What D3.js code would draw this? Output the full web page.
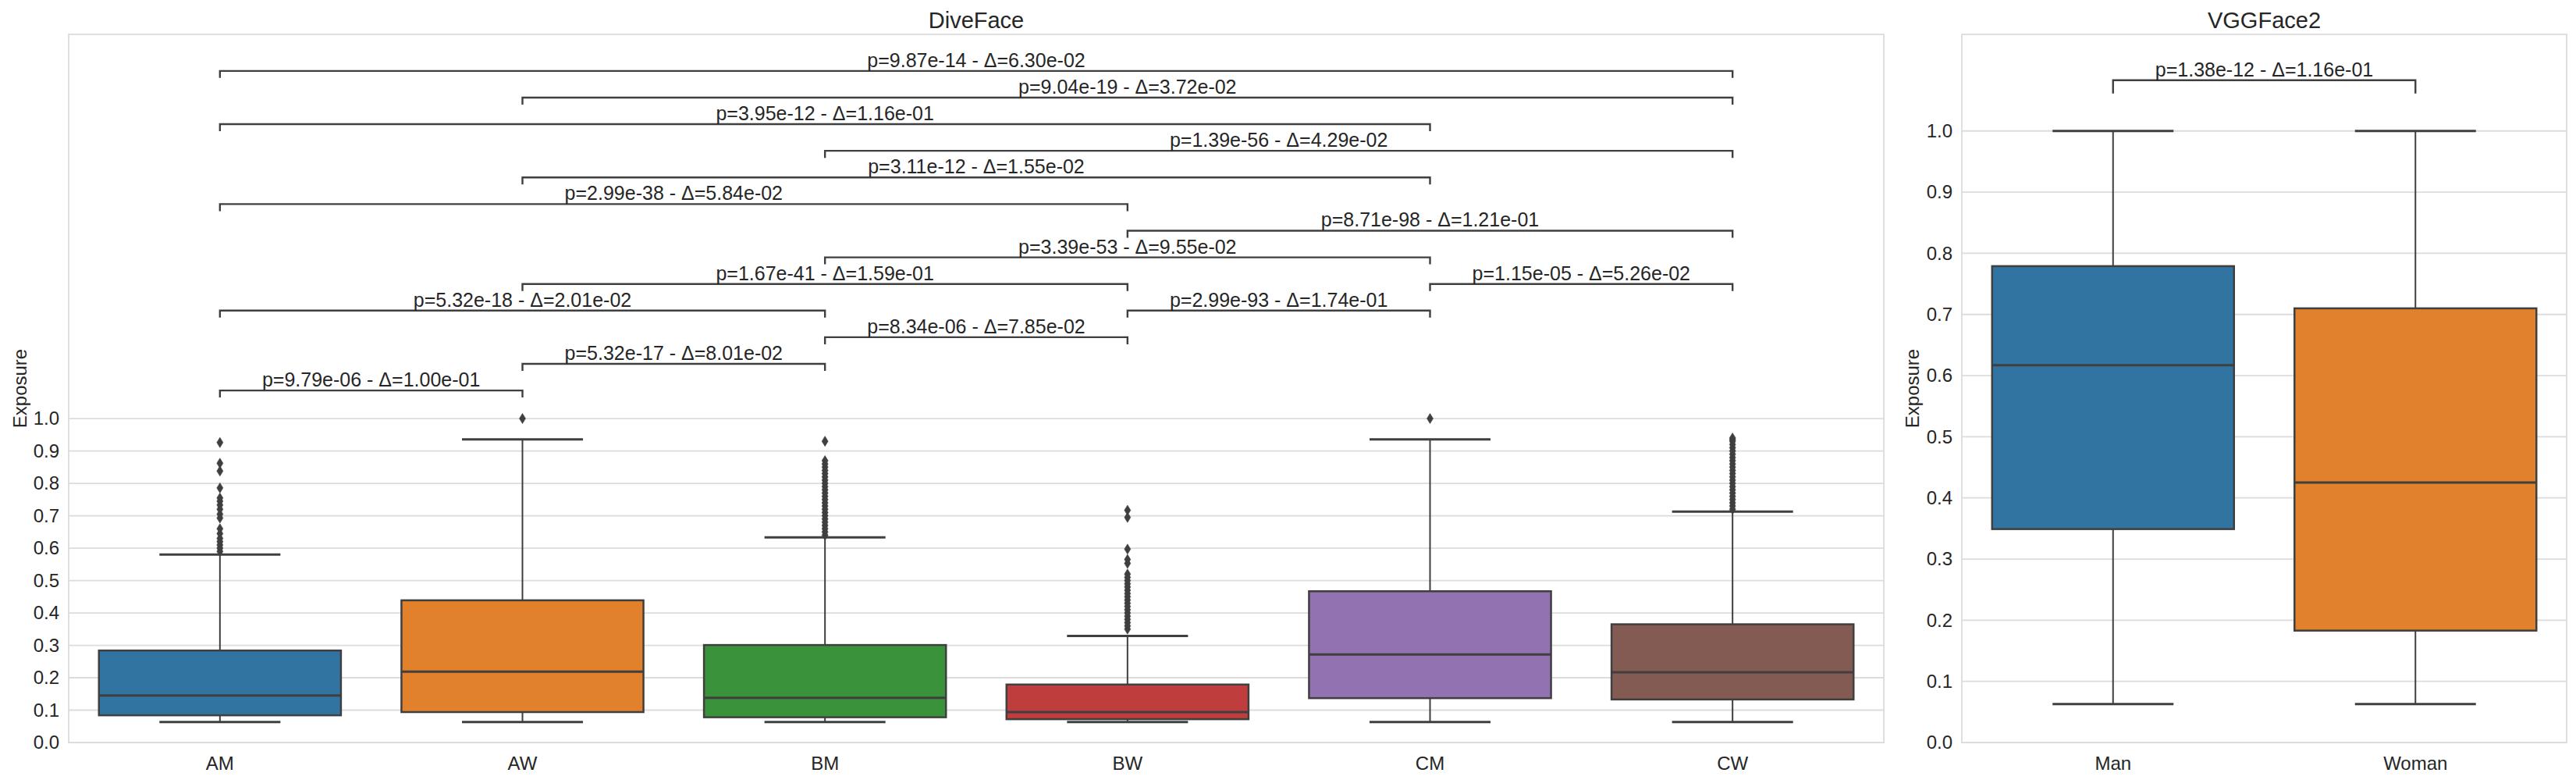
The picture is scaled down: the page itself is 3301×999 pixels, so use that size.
<!DOCTYPE html>
<html>
<head>
<meta charset="utf-8">
<script src="https://cdn.jsdelivr.net/npm/d3@7"></script>
<style>
  html, body { margin: 0; padding: 0; background: #ffffff; }
  svg { display: block; }
  text { font-family: "Liberation Sans", Arial, sans-serif; fill: #262626; }
</style>
</head>
<body>
<script>
// ---------------- DATA ----------------
const dfCategories = ["AM", "AW", "BM", "BW", "CM", "CW"];
const dfWhiskerLow = [0.063, 0.063, 0.063, 0.063, 0.063, 0.063];
const dfQ1 = [0.084, 0.094, 0.078, 0.072, 0.137, 0.133];
const dfMedian = [0.145, 0.219, 0.138, 0.094, 0.272, 0.217];
const dfQ3 = [0.284, 0.439, 0.301, 0.179, 0.467, 0.365];
const dfWhiskerHigh = [0.580, 0.936, 0.633, 0.329, 0.936, 0.713];
const dfOutliers = [
  [0.926, 0.862, 0.838, 0.786, 0.755, 0.745, 0.733, 0.72, 0.705, 0.693, 0.66, 0.645, 0.63, 0.62, 0.61, 0.60, 0.59],
  [1.0],
  [0.93, 0.87, 0.86, 0.85, 0.84, 0.83, 0.82, 0.81, 0.80, 0.79, 0.78, 0.77, 0.76, 0.75, 0.74, 0.73, 0.72, 0.71, 0.70, 0.69, 0.68, 0.67, 0.66, 0.65, 0.64],
  [0.717, 0.695, 0.597, 0.565, 0.553, 0.52, 0.51, 0.50, 0.49, 0.48, 0.47, 0.46, 0.45, 0.44, 0.43, 0.42, 0.41, 0.40, 0.39, 0.38, 0.37, 0.36, 0.35],
  [1.0],
  [0.94, 0.935, 0.93, 0.92, 0.91, 0.90, 0.89, 0.88, 0.87, 0.86, 0.85, 0.84, 0.83, 0.82, 0.81, 0.80, 0.79, 0.78, 0.77, 0.76, 0.75, 0.74, 0.73, 0.72]
];
const dfColors = ["#3274a1", "#e1812c", "#3a923a", "#c03d3e", "#9372b2", "#845b53"];

// pairwise comparisons (stacking tier 0 = lowest)
const dfPairs = [
  ["AM", "AW"], ["AW", "BM"], ["BM", "BW"], ["AM", "BM"], ["BW", "CM"],
  ["AW", "BW"], ["CM", "CW"], ["BM", "CM"], ["BW", "CW"], ["AM", "BW"],
  ["AW", "CM"], ["BM", "CW"], ["AM", "CM"], ["AW", "CW"], ["AM", "CW"]
];
const dfTier = [0, 1, 2, 3, 3, 4, 4, 5, 6, 7, 8, 9, 10, 11, 12];
const dfLabels = [
  "p=9.79e-06 - Δ=1.00e-01", "p=5.32e-17 - Δ=8.01e-02", "p=8.34e-06 - Δ=7.85e-02",
  "p=5.32e-18 - Δ=2.01e-02", "p=2.99e-93 - Δ=1.74e-01", "p=1.67e-41 - Δ=1.59e-01",
  "p=1.15e-05 - Δ=5.26e-02", "p=3.39e-53 - Δ=9.55e-02", "p=8.71e-98 - Δ=1.21e-01",
  "p=2.99e-38 - Δ=5.84e-02", "p=3.11e-12 - Δ=1.55e-02", "p=1.39e-56 - Δ=4.29e-02",
  "p=3.95e-12 - Δ=1.16e-01", "p=9.04e-19 - Δ=3.72e-02", "p=9.87e-14 - Δ=6.30e-02"
];

const vgCategories = ["Man", "Woman"];
const vgWhiskerLow = [0.063, 0.063];
const vgQ1 = [0.349, 0.183];
const vgMedian = [0.617, 0.425];
const vgQ3 = [0.779, 0.710];
const vgWhiskerHigh = [1.0, 1.0];
const vgOutliers = [[], []];
const vgColors = ["#3274a1", "#e1812c"];
const vgPairs = [["Man", "Woman"]];
const vgTier = [0];
const vgLabels = ["p=1.38e-12 - Δ=1.16e-01"];

const yTicks = [0.0, 0.1, 0.2, 0.3, 0.4, 0.5, 0.6, 0.7, 0.8, 0.9, 1.0];

// ---------------- DRAW ----------------
const W = 3301, H = 999;
const svg = d3.select("body").append("svg").attr("width", W).attr("height", H);
const lineColor = "#3f3f3f";
const gridColor = "#dcdcdc";

function panel(opt) {
  const {x0, x1, top, bottom, yMax, cats, lo, q1, med, q3, hi, outs, colors,
         pairs, tiers, labels, title, bracketBase, bracketStep, bracketTick, labelX} = opt;
  const g = svg.append("g");
  const x = d3.scaleBand().domain(cats).range([x0, x1]).paddingInner(0).paddingOuter(0);
  const y = d3.scaleLinear().domain([0, yMax]).range([bottom, top]);
  const bw = x.bandwidth() * 0.8;
  const cx = c => x(c) + x.bandwidth() / 2;

  // grid
  g.append("g").selectAll("line").data(yTicks).join("line")
    .attr("x1", x0).attr("x2", x1)
    .attr("y1", d => y(d)).attr("y2", d => y(d))
    .attr("stroke", gridColor).attr("stroke-width", 1.8);

  // frame
  g.append("rect").attr("x", x0).attr("y", top).attr("width", x1 - x0).attr("height", bottom - top)
    .attr("fill", "none").attr("stroke", gridColor).attr("stroke-width", 1.8);

  // y axis (ticks as text only)
  const yAxis = d3.axisLeft(y).tickValues(yTicks).tickFormat(d3.format(".1f")).tickSize(0).tickPadding(12);
  const ya = g.append("g").attr("transform", `translate(${x0},0)`).call(yAxis);
  ya.select(".domain").remove();
  ya.selectAll("text").attr("font-size", 24).style("fill", "#262626")
    .style("font-family", '"Liberation Sans", Arial, sans-serif');

  // x axis labels
  const xAxis = d3.axisBottom(x).tickSize(0).tickPadding(12);
  const xa = g.append("g").attr("transform", `translate(0,${bottom})`).call(xAxis);
  xa.select(".domain").remove();
  xa.selectAll("text").attr("font-size", 24).attr("dy", "0.95em").style("fill", "#262626")
    .style("font-family", '"Liberation Sans", Arial, sans-serif');

  // y label
  g.append("text").attr("transform", `translate(${labelX},${(top + bottom) / 2}) rotate(-90)`)
    .attr("text-anchor", "middle").attr("dy", "0.35em").attr("font-size", 24).text("Exposure");

  // title
  g.append("text").attr("x", (x0 + x1) / 2).attr("y", top - 8).attr("text-anchor", "middle")
    .attr("font-size", 29).text(title);

  // boxes
  cats.forEach((c, i) => {
    const b = g.append("g");
    b.append("line").attr("x1", cx(c)).attr("x2", cx(c)).attr("y1", y(q3[i])).attr("y2", y(hi[i]))
      .attr("stroke", lineColor).attr("stroke-width", 2);
    b.append("line").attr("x1", cx(c)).attr("x2", cx(c)).attr("y1", y(q1[i])).attr("y2", y(lo[i]))
      .attr("stroke", lineColor).attr("stroke-width", 2);
    [hi[i], lo[i]].forEach(v => {
      b.append("line").attr("x1", cx(c) - bw / 4).attr("x2", cx(c) + bw / 4)
        .attr("y1", y(v)).attr("y2", y(v)).attr("stroke", lineColor).attr("stroke-width", 3);
    });
    b.append("rect").attr("x", cx(c) - bw / 2).attr("width", bw)
      .attr("y", y(q3[i])).attr("height", y(q1[i]) - y(q3[i]))
      .attr("fill", colors[i]).attr("stroke", lineColor).attr("stroke-width", 2.5);
    b.append("line").attr("x1", cx(c) - bw / 2).attr("x2", cx(c) + bw / 2)
      .attr("y1", y(med[i])).attr("y2", y(med[i])).attr("stroke", lineColor).attr("stroke-width", 3);
    b.selectAll("path.out").data(outs[i]).join("path").attr("class", "out")
      .attr("d", "M0,-6.5 L4,0 L0,6.5 L-4,0Z")
      .attr("transform", v => `translate(${cx(c)},${y(v)})`)
      .attr("fill", lineColor).attr("stroke", lineColor).attr("stroke-width", 0.6);
  });

  // significance brackets
  pairs.forEach((p, i) => {
    const lv = bracketBase + tiers[i] * bracketStep;
    const xa_ = cx(p[0]), xb_ = cx(p[1]);
    const yl = y(lv), yt = y(lv - bracketTick);
    g.append("path").attr("d", `M${xa_},${yt} L${xa_},${yl} L${xb_},${yl} L${xb_},${yt}`)
      .attr("fill", "none").attr("stroke", lineColor).attr("stroke-width", 2.4);
    g.append("text").attr("x", (xa_ + xb_) / 2).attr("y", yl - 5).attr("text-anchor", "middle")
      .attr("font-size", 25).text(labels[i]);
  });
}

panel({
  x0: 88, x1: 2414, top: 44, bottom: 951, yMax: 2.186,
  cats: dfCategories, lo: dfWhiskerLow, q1: dfQ1, med: dfMedian, q3: dfQ3, hi: dfWhiskerHigh,
  outs: dfOutliers, colors: dfColors, pairs: dfPairs, tiers: dfTier, labels: dfLabels,
  title: "DiveFace", bracketBase: 1.0867, bracketStep: 0.0822, bracketTick: 0.0217, labelX: 26
});

panel({
  x0: 2514, x1: 3289, top: 44, bottom: 951, yMax: 1.158,
  cats: vgCategories, lo: vgWhiskerLow, q1: vgQ1, med: vgMedian, q3: vgQ3, hi: vgWhiskerHigh,
  outs: vgOutliers, colors: vgColors, pairs: vgPairs, tiers: vgTier, labels: vgLabels,
  title: "VGGFace2", bracketBase: 1.083, bracketStep: 0.0822, bracketTick: 0.0217, labelX: 2451
});
</script>
</body>
</html>
